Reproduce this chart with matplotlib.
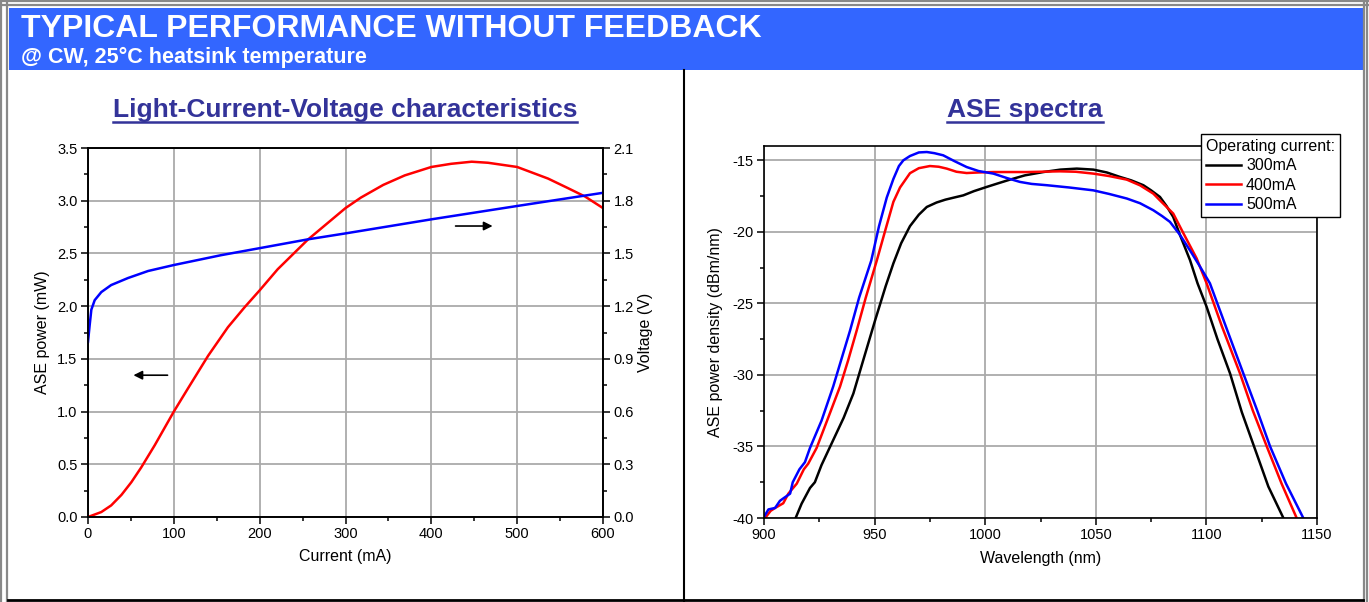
import numpy as np
import matplotlib
matplotlib.use('Agg')
import matplotlib.pyplot as plt
from matplotlib.lines import Line2D
from matplotlib.patches import Rectangle
from matplotlib.ticker import MultipleLocator

plt.rcParams['font.family'] = ['Liberation Sans', 'DejaVu Sans']
plt.rcParams['axes.unicode_minus'] = False

# ---- data: LIV curve
current_p = [0, 15.5, 27, 39, 50.5, 62, 77.7, 100, 116.5, 140, 163, 182.5, 200, 221, 241, 256, 278,
             300, 318, 344, 369, 400, 423, 447, 466, 500, 536, 559, 579, 600]
power_mw = [0, 0.047, 0.11, 0.21, 0.33, 0.47, 0.68, 1.0, 1.22, 1.53, 1.80, 1.99, 2.15, 2.35, 2.51,
            2.63, 2.78, 2.93, 3.03, 3.15, 3.24, 3.32, 3.35, 3.37, 3.36, 3.32, 3.21, 3.12, 3.04, 2.93]

current_v = [0, 1.9, 3.9, 7.8, 15.5, 27, 46.6, 70, 100, 155, 200, 256, 300, 400, 500, 600]
voltage_v = [0.997, 1.09, 1.18, 1.234, 1.28, 1.32, 1.36, 1.40, 1.434, 1.49, 1.53, 1.58, 1.614,
             1.694, 1.77, 1.845]

# ---- data: ASE spectra
wl_300 = [914.3, 917, 920.8, 923, 926, 931.3, 936, 940.4, 945, 950.2, 955, 958.5, 962, 966,
          970, 973.6, 978, 982, 986, 990.1, 995, 1000.7, 1006, 1011.2, 1018, 1026.3, 1034, 1041.4,
          1048.9, 1055, 1060.9, 1066, 1071.5, 1075, 1079, 1082, 1085, 1088, 1092.6, 1096, 1100.1,
          1105, 1110.7, 1116, 1122.7, 1128, 1134.8]
ase_300 = [-40, -39.0, -37.9, -37.5, -36.3, -34.55, -33.0, -31.3, -28.9, -26.2, -23.8, -22.2,
           -20.8, -19.6, -18.8, -18.26, -17.95, -17.75, -17.6, -17.45, -17.15, -16.86, -16.6,
           -16.35, -16.05, -15.82, -15.65, -15.58, -15.65, -15.85, -16.16, -16.4, -16.74, -17.1,
           -17.56, -18.2, -18.96, -20.2, -21.98, -23.6, -25.24, -27.5, -29.9, -32.6, -35.5, -37.8, -40]

wl_400 = [900.5, 903, 905, 908.7, 911, 914.8, 918, 920, 923.8, 929, 934.4, 938, 941.9, 946, 951,
          955, 958.5, 961.5, 966, 970, 975, 979, 982.6, 987, 991.6, 997, 1003.7, 1018.8, 1033.8,
          1041, 1048.9, 1056, 1064, 1070, 1076, 1079, 1085, 1089.6, 1095.6, 1100.1, 1107, 1115.2,
          1121, 1127.3, 1134, 1140.8]
ase_400 = [-40, -39.5, -39.3, -38.97, -38.3, -37.6, -36.6, -36.2, -35.1, -33.0, -30.8, -29.0,
           -26.9, -24.6, -22.0, -19.8, -17.9, -16.9, -15.9, -15.55, -15.4, -15.45, -15.58, -15.8,
           -15.89, -15.85, -15.82, -15.82, -15.77, -15.8, -15.93, -16.1, -16.35, -16.75, -17.33,
           -17.8, -18.72, -20.1, -21.86, -23.6, -26.6, -29.9, -32.5, -35.0, -37.6, -40]

wl_500 = [899.7, 902, 905, 907.2, 909, 911.8, 913, 916, 918.5, 920.8, 926, 931.3, 935, 938.9, 943,
          948.5, 952, 955.5, 958.5, 961, 963, 966, 970, 973.6, 977, 981, 986, 991.6, 997, 1003.7,
          1010, 1015.7, 1021, 1027.8, 1038, 1048.9, 1056, 1064, 1070, 1076, 1080, 1083.5, 1088,
          1092.6, 1097, 1101.6, 1109, 1116.7, 1123, 1128.8, 1136, 1143.8]
ase_500 = [-40, -39.4, -39.3, -38.8, -38.6, -38.3, -37.5, -36.6, -36.1, -35.1, -33.2, -30.8, -28.9,
           -26.9, -24.6, -22.0, -19.6, -17.6, -16.3, -15.4, -15.0, -14.7, -14.45, -14.42, -14.5,
           -14.65, -15.05, -15.47, -15.75, -15.93, -16.25, -16.51, -16.65, -16.74, -16.9, -17.1,
           -17.35, -17.67, -18.0, -18.49, -18.9, -19.3, -20.2, -21.3, -22.4, -23.6, -26.7, -29.9,
           -32.5, -35.0, -37.6, -40]

spectra = [('300mA', wl_300, ase_300, 'black'),
           ('400mA', wl_400, ase_400, 'red'),
           ('500mA', wl_500, ase_500, 'blue')]

W, H = 1369, 602
fig = plt.figure(figsize=(W / 100, H / 100), dpi=100)


def fx(px):
    return px / W


def fy(py):
    return 1 - py / H


def axes_box(x0, y0, x1, y1):
    return [fx(x0), fy(y1), fx(x1) - fx(x0), fy(y0) - fy(y1)]


# ---- frame and header
navy = '#333399'
blue_band = '#3366ff'
fig.add_artist(Rectangle((fx(9), fy(70)), fx(1363) - fx(9), fy(8) - fy(70),
                         transform=fig.transFigure, color=blue_band, lw=0))
for x in (1, 6.5, 1363.5, 1367):
    fig.add_artist(Line2D([fx(x), fx(x)], [0, 1], transform=fig.transFigure, color='#888888', lw=1.6))
for y in (1, 4.5):
    fig.add_artist(Line2D([0, 1], [fy(y), fy(y)], transform=fig.transFigure, color='#888888', lw=1.6))
fig.add_artist(Line2D([fx(684), fx(684)], [fy(70), fy(602)], transform=fig.transFigure, color='black', lw=1.5))
fig.add_artist(Line2D([fx(8), fx(1363)], [fy(600), fy(600)], transform=fig.transFigure, color='black', lw=2))

fig.text(fx(21), fy(37), 'TYPICAL PERFORMANCE WITHOUT FEEDBACK', color='white',
         fontsize=23, fontweight='bold', va='baseline', ha='left')
fig.text(fx(21), fy(63), '@ CW, 25°C heatsink temperature', color='white',
         fontsize=15.5, fontweight='bold', va='baseline', ha='left')

titles = []
titles.append(fig.text(fx(345), fy(117), 'Light-Current-Voltage characteristics', color=navy,
                       fontsize=19, fontweight='bold', ha='center', va='baseline'))
titles.append(fig.text(fx(1025), fy(117), 'ASE spectra', color=navy,
                       fontsize=19, fontweight='bold', ha='center', va='baseline'))

TICK_FS = 10.5
LABEL_FS = 11.5


def style_axes(ax):
    for s in ax.spines.values():
        s.set_linewidth(1.2)
    ax.tick_params(which='both', direction='out', top=False, labelsize=TICK_FS, pad=2.5, width=1.1)
    ax.tick_params(which='major', length=5)
    ax.tick_params(which='minor', length=3)
    ax.grid(True, which='major', color='#aaaaaa', lw=1.3)
    ax.set_axisbelow(True)


# ---- left: LIV
ax = fig.add_axes(axes_box(88, 148, 603, 517))
ax.plot(current_p, power_mw, color='red', lw=1.8)
ax.set_xlim(0, 600)
ax.set_ylim(0, 3.5)
ax.xaxis.set_major_locator(MultipleLocator(100))
ax.xaxis.set_minor_locator(MultipleLocator(50))
ax.yaxis.set_major_locator(MultipleLocator(0.5))
ax.yaxis.set_minor_locator(MultipleLocator(0.25))
ax.yaxis.set_major_formatter('{x:.1f}')
style_axes(ax)
ax.tick_params(which='both', right=False)
ax.set_xlabel('Current (mA)', fontsize=LABEL_FS)
ax.set_ylabel('ASE power (mW)', fontsize=LABEL_FS)
ax.xaxis.set_label_coords(0.5, -0.106)
ax.yaxis.set_label_coords(-0.089, 0.5)

ax2 = ax.twinx()
ax2.plot(current_v, voltage_v, color='blue', lw=1.8)
ax2.set_ylim(0, 2.1)
ax2.yaxis.set_major_locator(MultipleLocator(0.3))
ax2.yaxis.set_minor_locator(MultipleLocator(0.15))
ax2.yaxis.set_major_formatter('{x:.1f}')
for s in ax2.spines.values():
    s.set_linewidth(1.2)
ax2.tick_params(which='both', direction='out', labelsize=TICK_FS, pad=2.5, width=1.1)
ax2.tick_params(which='major', length=5)
ax2.tick_params(which='minor', length=3)
ax2.set_ylabel('Voltage (V)', fontsize=LABEL_FS)
ax2.yaxis.set_label_coords(1.082, 0.5)

# direction arrows
arrow_left = ((95.9, 1.345), (49.7, 1.345))
arrow_right = ((425, 2.76), (474.6, 2.76))
for (x_from, y_from), (x_to, y_to) in (arrow_left, arrow_right):
    ax.annotate('', xy=(x_to, y_to), xytext=(x_from, y_from),
                arrowprops=dict(arrowstyle='-|>', color='black', lw=1.2, mutation_scale=13))

# ---- right: spectra
axs = fig.add_axes(axes_box(764, 146, 1317, 518))
for label, wl, p, c in spectra:
    axs.plot(wl, p, color=c, lw=1.8, label=label)
axs.set_xlim(900, 1150)
axs.set_ylim(-40, -14)
axs.xaxis.set_major_locator(MultipleLocator(50))
axs.xaxis.set_minor_locator(MultipleLocator(25))
axs.yaxis.set_major_locator(MultipleLocator(5))
axs.yaxis.set_minor_locator(MultipleLocator(2.5))
style_axes(axs)
axs.tick_params(which='both', right=False)
axs.set_xlabel('Wavelength (nm)', fontsize=LABEL_FS)
axs.set_ylabel('ASE power density (dBm/nm)', fontsize=LABEL_FS)
axs.xaxis.set_label_coords(0.5, -0.108)
axs.yaxis.set_label_coords(-0.087, 0.5)

leg = axs.legend(title='Operating current:', loc='upper right',
                 bbox_to_anchor=(fx(1340), fy(134)), bbox_transform=fig.transFigure,
                 fontsize=11.5, title_fontsize=11.5, alignment='left', fancybox=False,
                 framealpha=1, edgecolor='black', handlelength=2.2, handletextpad=0.3,
                 labelspacing=0.28, borderpad=0.3, borderaxespad=0)
leg.get_frame().set_linewidth(1.0)
for ln in leg.get_lines():
    ln.set_linewidth(1.8)

for a in (ax, ax2, axs):
    for lab in (a.xaxis.label, a.yaxis.label):
        lab.set_va('center')

# underline the section titles
renderer = fig.canvas.get_renderer()
for t in titles:
    bb = t.get_window_extent(renderer)
    fig.add_artist(Line2D([bb.x0 / W, bb.x1 / W], [fy(121.5), fy(121.5)],
                          transform=fig.transFigure, color=navy, lw=1.8))

fig.savefig('out.png', dpi=100)
